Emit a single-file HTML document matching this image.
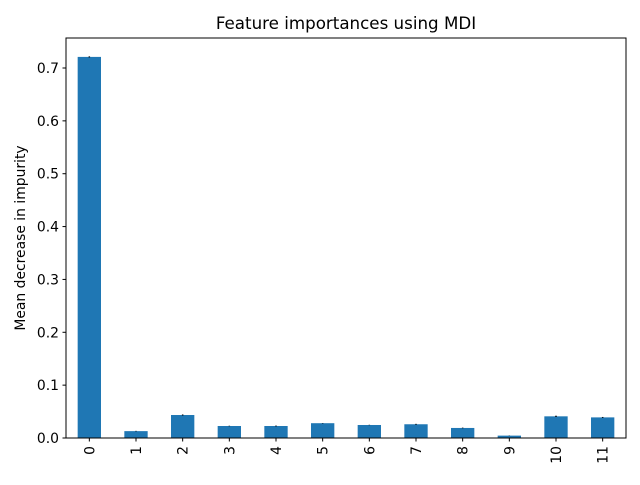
<!DOCTYPE html>
<html><head><meta charset="utf-8"><style>
body{margin:0;background:#fff;width:640px;height:480px;overflow:hidden}
svg{font-family:"DejaVu Sans","Liberation Sans",sans-serif}
</style></head><body>
<svg id="chart" width="640" height="480">
<rect width="640" height="480" fill="#fff"/>
<text x="346" y="29" font-size="16.7" text-anchor="middle">Feature importances using MDI</text>
<g id="bars"></g>
<g id="yaxis"></g>
<g id="xaxis"></g>
<text transform="translate(25,238) rotate(-90)" font-size="13.9" text-anchor="middle">Mean decrease in impurity</text>
<rect x="66" y="38" width="560" height="400" fill="none" stroke="#000" stroke-width="1"/>
</svg>
<script>
const categories = ["0","1","2","3","4","5","6","7","8","9","10","11"];
const values = [0.721,0.013,0.0435,0.0227,0.0227,0.028,0.0246,0.026,0.019,0.0045,0.041,0.039];
const errors = [0.001,0.0005,0.001,0.0005,0.0008,0.0004,0.0004,0.0008,0.0006,0.0003,0.0012,0.0008];
const yTicks = [0,0.1,0.2,0.3,0.4,0.5,0.6,0.7];
const NS="http://www.w3.org/2000/svg";
const L=66,R=626,B=438,pxPerUnit=(438-68)/0.7;
const y=v=>B-v*pxPerUnit;
const step=(R-L)/categories.length;
const x=i=>L+step*(i+0.5);
function mk(t,a,p){const e=document.createElementNS(NS,t);for(const k in a)e.setAttribute(k,a[k]);p.appendChild(e);return e;}
const gb=document.getElementById('bars'),gy=document.getElementById('yaxis'),gx=document.getElementById('xaxis');
categories.forEach((c,i)=>{
  const bw=step*0.5;
  const r=mk('rect',{x:x(i)-bw/2,y:y(values[i]),width:bw,height:B-y(values[i]),fill:'#1f77b4'},gb);
  
  
  const e=mk('line',{x1:x(i),x2:x(i),y1:y(values[i]+errors[i]),y2:y(values[i]-errors[i]),stroke:'#000','stroke-width':1.5},gb);
  
  
  mk('line',{x1:x(i),x2:x(i),y1:B,y2:B+3.5,stroke:'#000'},gx);
  const t=mk('text',{transform:`translate(${x(i)+5},${B+8}) rotate(-90)`,'font-size':13.9,'text-anchor':'end'},gx);
  t.textContent=c;
  
  
});
yTicks.forEach(v=>{
  mk('line',{x1:L-3.5,x2:L,y1:y(v),y2:y(v),stroke:'#000'},gy);
  const t=mk('text',{x:L-7,y:y(v)+5,'font-size':13.9,'text-anchor':'end'},gy);
  t.textContent=v.toFixed(1);
  
  
});
</script>
</body></html>
